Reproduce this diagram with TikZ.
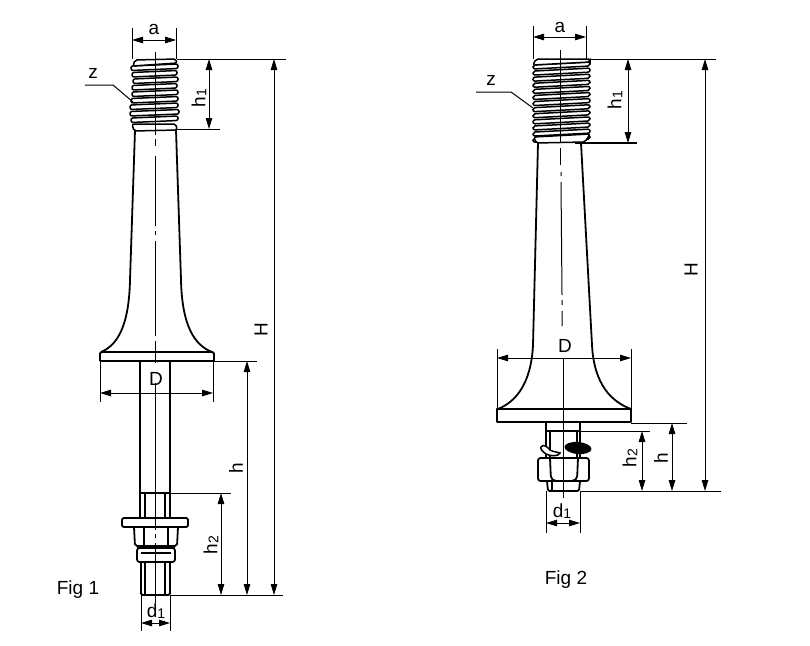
\documentclass[tikz,border=0pt]{standalone}
\usepackage{fontspec}
\setmainfont{Liberation Sans}
\usetikzlibrary{arrows.meta}
\tikzset{
    every node/.style={font=\fontsize{19}{19}\selectfont, inner sep=0pt},
    part/.style={line width=1.8pt, line join=round},
    partthin/.style={line width=1.2pt},
    thread/.style={line width=1.5pt, fill=white, rounded corners=2pt},
    extline/.style={line width=1pt},
    centerline/.style={line width=1pt},
    dimarrow/.style={line width=1pt, {Triangle[length=11pt,width=6.5pt]}-{Triangle[length=11pt,width=6.5pt]}},
    dimlabel/.style={rotate=90},
}
\newcommand{\subnum}[1]{\raisebox{-1pt}{\fontsize{14}{14}\selectfont #1}}

\begin{document}
\begin{tikzpicture}[x=1pt,y=-1pt]
\useasboundingbox (0,0) rectangle (810,645);

% Fig 1: body and flange
\draw[part] (135,130) -- (130,280) .. controls (129,325) and (118,345) .. (101,352);
\draw[part] (176,130) -- (181,280) .. controls (182,325) and (194,345) .. (212,352);
\draw[part,rounded corners=1.5pt] (100,361) -- (100,352) -- (214,352) -- (214,361);
\draw[partthin] (100,361) -- (214,361);

% Fig 1: thread
\foreach \y/\l/\r in {66/131/178, 72.5/132/177, 79/133/178, 85.5/132/177, 92/132/178, 98.5/131/178, 105/130/178, 111.5/130/179, 118/131/178}{
  \draw[thread] (\l,\y) -- (\r,\y-2) -- (\r,\y+2.5) -- (\l,\y+4.5) -- cycle;
}
\draw[thread] (133,66) -- (135,60) -- (176,59) -- (177,63) -- cycle;
\draw[thread] (132,124) -- (176,124) -- (177,130) -- (134,131) -- cycle;

% Fig 1: shaft, washer and nuts
\draw[partthin] (140,361) -- (140,518) (170,361) -- (170,518);
\draw[partthin] (141,493) -- (170,493) (145,493) -- (145,518) (165,493) -- (165,518);
\draw[part,rounded corners=2pt,fill=white] (122,518) rectangle (188,527);
\draw[part,rounded corners=2pt] (134,527) -- (135,546) -- (177,546) -- (178,527);
\draw[partthin] (144,527) -- (144,546) (168,527) -- (168,546);
\draw[part,rounded corners=2.5pt] (137,548) rectangle (175,562);
\draw[part] (137,548) -- (175,548);
\draw[partthin] (141,553) -- (171,553);
\draw[part,rounded corners=1.5pt] (141,562) -- (141,595) -- (170,595) -- (170,562);
\draw[partthin] (145,562) -- (145,595) (165,562) -- (165,595);

% Fig 1: center line
\draw[centerline] (155,52) -- (155,135) (155,139) -- (155,146);
\draw[centerline] (155,156) -- (155,226) (155,231) -- (155,235) (155,241) -- (155,336);
\draw[centerline] (155,341) -- (155,363) (155,383) -- (155,530) (155,534) -- (155,538) (155,543) -- (155,603);

% Fig 1: extension lines
\draw[extline] (132,28) -- (132,59) (176,28) -- (176,59);
\draw[extline] (177,59) -- (286,59) (177,129) -- (220,129);
\draw[extline] (214,361) -- (257,361) (170,493) -- (231,493) (170,595) -- (283,595);
\draw[extline] (100,361) -- (100,402) (213,361) -- (213,402);
\draw[extline] (141,595) -- (141,631) (170,595) -- (170,631);

% Fig 1: dimensions
\draw[dimarrow] (132,40) -- (176,40);
\draw[dimarrow] (209,59) -- (209,129);
\draw[dimarrow] (274,59) -- (274,595);
\draw[dimarrow] (247,361) -- (247,595);
\draw[dimarrow] (221,493) -- (221,595);
\draw[dimarrow] (100,393) -- (213,393);
\draw[dimarrow] (141,623) -- (170,623);

\node (a-one) at (154,29) {a};
\node[dimlabel] (h1-one) at (199,98) {h\subnum{1}};
\node[dimlabel] (H-one) at (261,330) {H};
\node[dimlabel] (h-one) at (236,468) {h};
\node[dimlabel] (h2-one) at (211,545) {h\subnum{2}};
\node (D-one) at (156,379) {D};
\node (d1-one) at (156,611) {d\subnum{1}};
\node (z-one) at (93,73) {z};
\draw[extline] (85,85) -- (113,85) -- (133,102);
\node (fig-one) at (78,590) {Fig 1};

% Fig 2: body and flange
\draw[part] (538,143) -- (533,345) .. controls (531,385) and (515,402) .. (498,409);
\draw[part] (581,143) -- (592,345) .. controls (594,385) and (612,402) .. (631,409);
\draw[part] (497,409) rectangle (631,422);

% Fig 2: thread
\foreach \row in {0,...,12}{
  \draw[thread] (533,65+6.1*\row) -- (590,62+6.1*\row) -- (590,66+6.1*\row) -- (533,69+6.1*\row) -- cycle;
}
\draw[thread] (533,65) -- (536,59) -- (590,59) -- (590,62) -- cycle;
\draw[thread] (534,137) -- (590,134) -- (585,142) -- (536,143) -- cycle;
\draw[part] (575,143) -- (637,143);

% Fig 2: stud, nut and pin
\draw[partthin] (546,422) -- (546,458) (580,422) -- (580,458);
\draw[partthin] (546,431) -- (580,431) (550,431) -- (550,458) (577,431) -- (577,458);
\draw[part,rounded corners=2.5pt,fill=white] (538,458) rectangle (589,481);
\draw[part,rounded corners=5pt] (550,458) -- (551,481) -- (577,481) -- (578,458);
\draw[part,rounded corners=1.5pt] (547,481) -- (548,491) -- (579,491) -- (580,481);
\draw[partthin] (552,481) -- (552,491);
\draw[line width=1.5pt,fill=white] (541,447) .. controls (543,444) and (547,446) .. (550,450) .. controls (553,452) and (558,452) .. (560,453) .. controls (558,457) and (550,456) .. (546,454) .. controls (543,452) and (540,449) .. (541,447) -- cycle;
\fill[rotate around={-5:(578,448)}] (578,448) ellipse (13.5 and 6);

% Fig 2: center line
\draw[centerline] (560,50) -- (560,143) (560,148) -- (560,165);
\draw[centerline] (561,172) -- (561,176) (561,182) -- (562,295) (562,300) -- (562,305) (562,311) -- (562,326);
\draw[centerline] (563,358) -- (563,498);

% Fig 2: extension lines
\draw[extline] (533,26) -- (533,59) (586,26) -- (586,59);
\draw[extline] (590,59) -- (716,59);
\draw[extline] (497,349) -- (497,409) (631,349) -- (631,409);
\draw[extline] (631,423) -- (687,423) (580,431) -- (650,431) (580,491) -- (721,491);
\draw[extline] (546,491) -- (546,533) (580,491) -- (580,533);

% Fig 2: dimensions
\draw[dimarrow] (533,37) -- (586,37);
\draw[dimarrow] (628,59) -- (628,143);
\draw[dimarrow] (705,59) -- (705,491);
\draw[dimarrow] (672,423) -- (672,491);
\draw[dimarrow] (642,431) -- (642,491);
\draw[dimarrow] (497,358) -- (631,358);
\draw[dimarrow] (546,523) -- (580,523);

\node (a-two) at (560,27) {a};
\node[dimlabel] (h1-two) at (615,100) {h\subnum{1}};
\node[dimlabel] (H-two) at (691,270) {H};
\node[dimlabel] (h-two) at (661,458) {h};
\node[dimlabel] (h2-two) at (630,458) {h\subnum{2}};
\node (D-two) at (565,346) {D};
\node (d1-two) at (562,511) {d\subnum{1}};
\node (z-two) at (491,80) {z};
\draw[extline] (476,92) -- (511,92) -- (533,108);
\node (fig-two) at (566,580) {Fig 2};
\end{tikzpicture}
\end{document}
